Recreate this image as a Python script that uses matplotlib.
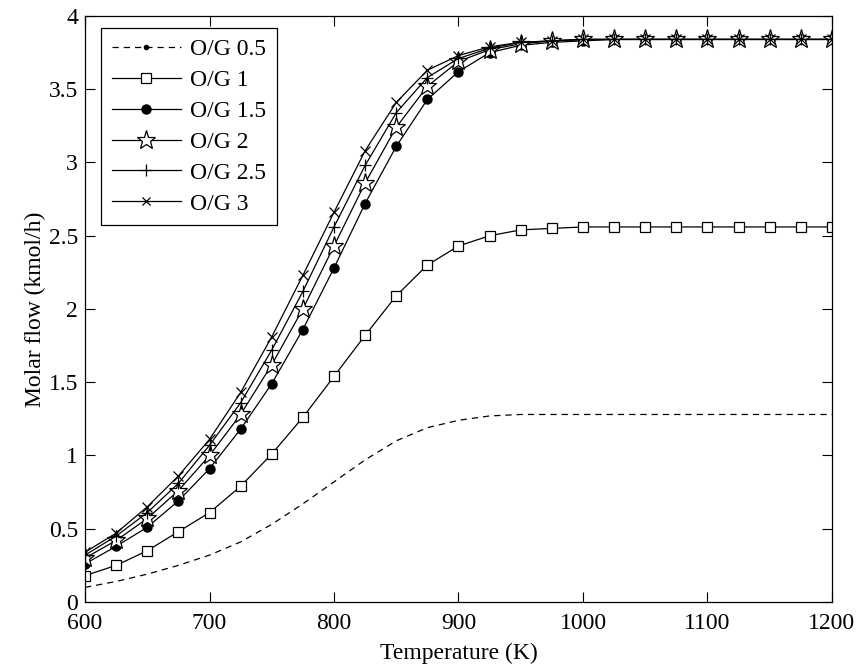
import matplotlib
matplotlib.use("Agg")
import matplotlib.pyplot as plt
from matplotlib.lines import Line2D
from matplotlib.ticker import FuncFormatter

plt.rcParams['font.family'] = ['Liberation Serif', 'DejaVu Serif']

temperature = [600, 625, 650, 675, 700, 725, 750, 775, 800, 825, 850, 875, 900,
               925, 950, 975, 1000, 1025, 1050, 1075, 1100, 1125, 1150, 1175, 1200]

og_05 = [0.10, 0.14, 0.19, 0.25, 0.32, 0.41, 0.53, 0.67, 0.82, 0.97, 1.10, 1.19, 1.24,
         1.27, 1.28, 1.28, 1.28, 1.28, 1.28, 1.28, 1.28, 1.28, 1.28, 1.28, 1.28]
og_1 = [0.18, 0.25, 0.35, 0.48, 0.61, 0.79, 1.01, 1.26, 1.54, 1.82, 2.09, 2.30, 2.43,
        2.50, 2.54, 2.55, 2.56, 2.56, 2.56, 2.56, 2.56, 2.56, 2.56, 2.56, 2.56]
og_15 = [0.26, 0.38, 0.51, 0.69, 0.91, 1.18, 1.49, 1.86, 2.28, 2.72, 3.11, 3.43, 3.62,
         3.75, 3.80, 3.82, 3.83, 3.84, 3.84, 3.84, 3.84, 3.84, 3.84, 3.84, 3.84]
og_2 = [0.30, 0.42, 0.57, 0.76, 1.00, 1.28, 1.62, 2.00, 2.43, 2.86, 3.24, 3.52, 3.69,
        3.77, 3.81, 3.83, 3.84, 3.84, 3.84, 3.84, 3.84, 3.84, 3.84, 3.84, 3.84]
og_25 = [0.32, 0.45, 0.61, 0.81, 1.07, 1.36, 1.72, 2.12, 2.56, 2.98, 3.34, 3.58, 3.71,
         3.78, 3.82, 3.83, 3.84, 3.84, 3.84, 3.84, 3.84, 3.84, 3.84, 3.84, 3.84]
og_3 = [0.34, 0.47, 0.65, 0.86, 1.11, 1.43, 1.81, 2.23, 2.66, 3.08, 3.41, 3.63, 3.73,
        3.79, 3.82, 3.83, 3.84, 3.84, 3.84, 3.84, 3.84, 3.84, 3.84, 3.84, 3.84]

labels = ['O/G 0.5', 'O/G 1', 'O/G 1.5', 'O/G 2', 'O/G 2.5', 'O/G 3']

fig = plt.figure(figsize=(8.57, 6.66), dpi=100)
ax = fig.add_axes([0.0992, 0.0961, 0.8716, 0.8799])

lw = 0.9
dash = (0, (5, 4))
ax.plot(temperature, og_05, color='black', lw=lw, ls=dash)
ax.plot(temperature, og_1, color='black', lw=lw, marker='s', ms=7,
        mfc='white', mec='black', mew=0.9)
ax.plot(temperature, og_15, color='black', lw=lw, marker='o', ms=6.5,
        mfc='black', mec='black')
ax.plot(temperature, og_2, color='black', lw=lw, marker='*', ms=14,
        mfc='white', mec='black', mew=0.9)
ax.plot(temperature, og_25, color='black', lw=lw, marker='+', ms=8, mew=0.9)
ax.plot(temperature, og_3, color='black', lw=lw, marker='x', ms=6.5, mew=0.9)

handles = [
    Line2D([], [], color='black', lw=lw, ls=dash, marker='.', ms=6),
    Line2D([], [], color='black', lw=lw, marker='s', ms=7, mfc='white', mec='black', mew=0.9),
    Line2D([], [], color='black', lw=lw, marker='o', ms=6.5, mfc='black', mec='black'),
    Line2D([], [], color='black', lw=lw, marker='*', ms=14, mfc='white', mec='black', mew=0.9),
    Line2D([], [], color='black', lw=lw, marker='+', ms=8, mew=0.9),
    Line2D([], [], color='black', lw=lw, marker='x', ms=6, mew=0.9),
]
leg = ax.legend(handles, labels, loc='upper left', bbox_to_anchor=(0.022, 0.98),
                fontsize=17, frameon=True, fancybox=False, edgecolor='black',
                framealpha=1, handlelength=2.9, handletextpad=0.42,
                labelspacing=0.4, borderpad=0.45, borderaxespad=0)
leg.get_frame().set_linewidth(0.9)

ax.set_xlim(600, 1200)
ax.set_ylim(0, 4)
ax.set_xticks([600, 700, 800, 900, 1000, 1100, 1200])
ax.set_yticks([0, 0.5, 1, 1.5, 2, 2.5, 3, 3.5, 4])
ax.yaxis.set_major_formatter(FuncFormatter(lambda v, p: '%g' % v))
ax.tick_params(direction='in', length=7, width=0.8, top=True, right=True,
               labelsize=17)
ax.tick_params(axis='x', pad=8)
ax.tick_params(axis='y', pad=5)
for s in ax.spines.values():
    s.set_linewidth(0.9)

ax.set_xlabel('Temperature (K)', fontsize=17, labelpad=6)
ax.set_ylabel('Molar flow (kmol/h)', fontsize=17, labelpad=2)

fig.savefig('out.png', dpi=100)
